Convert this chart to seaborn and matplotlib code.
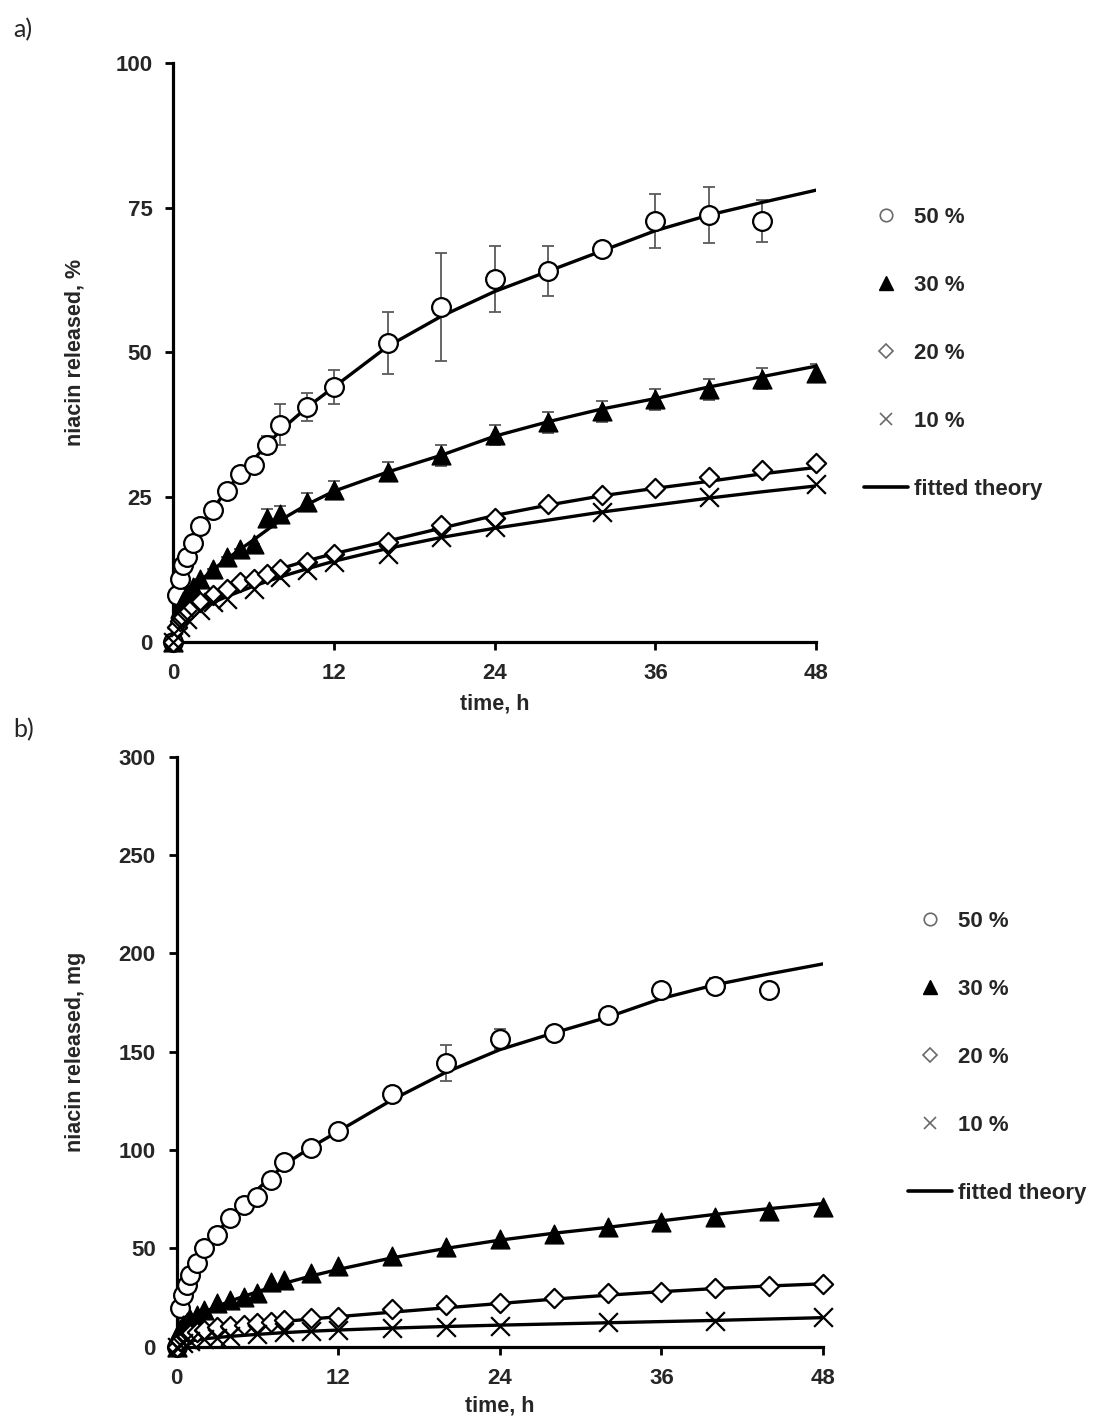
import numpy as np
import pandas as pd
import matplotlib
matplotlib.use("Agg")
import matplotlib.pyplot as plt
import seaborn as sns
from matplotlib.lines import Line2D

# ---------------- data ----------------
labels = ["50 %", "30 %", "20 %", "10 %"]

t_full = [0, 0.25, 0.5, 0.75, 1, 1.5, 2, 3, 4, 5, 6, 7, 8, 10, 12, 16, 20, 24, 28, 32, 36, 40, 44, 48]
t_50 = t_full[:-1]
t_10 = [0, 0.5, 1, 2, 3, 4, 6, 8, 10, 12, 16, 20, 24, 32, 40, 48]
t_fit = [0, 0.25, 0.5, 1, 2, 3, 4, 6, 8, 10, 12, 16, 20, 24, 28, 32, 36, 40, 44, 48]

# panel a: niacin released, %
pa_50 = [0, 8.0, 10.9, 13.2, 14.6, 17.0, 20.0, 22.7, 26.0, 29.0, 30.5, 34.0, 37.5, 40.6, 44.0,
         51.6, 57.8, 62.7, 64.0, 67.8, 72.7, 73.7, 72.7]
pa_50_err = [0, 0, 0, 0, 0, 0, 0, 0, 0.8, 1.0, 1.0, 1.5, 3.6, 2.4, 3.0,
             5.3, 9.3, 5.7, 4.3, 0.5, 4.7, 4.8, 3.6]
pa_30 = [0, 4.0, 5.8, 7.0, 8.3, 9.5, 10.8, 12.5, 14.6, 16.0, 16.9, 21.4, 22.0, 24.1, 26.2,
         29.4, 32.2, 35.7, 37.9, 39.8, 41.9, 43.6, 45.4, 46.4]
pa_30_err = [0, 0, 0, 0, 0, 0, 0, 0, 0, 0, 0, 1.5, 1.5, 1.5, 1.5,
             1.7, 1.8, 1.8, 1.8, 1.8, 1.8, 1.8, 1.8, 1.6]
pa_20 = [0, 2.5, 3.5, 4.3, 5.0, 6.0, 6.8, 8.0, 9.1, 10.3, 10.9, 11.7, 12.6, 13.7, 15.2,
         17.2, 20.1, 21.3, 23.7, 25.4, 26.6, 28.5, 29.6, 30.9]
pa_10 = [0, 2.5, 4.0, 5.5, 6.8, 7.4, 9.1, 11.1, 12.3, 13.7, 15.2, 18.1, 19.8, 22.4, 25.0, 27.2]

fa_50 = [3.5, 8.0, 10.9, 14.5, 19.5, 23.0, 26.3, 31.5, 36.5, 40.5, 44.0, 51.0, 56.2, 60.5,
         64.0, 67.5, 71.0, 73.7, 75.9, 78.0]
fa_30 = [3.5, 4.5, 5.8, 7.8, 10.5, 12.5, 14.3, 17.6, 21.0, 23.7, 26.0, 29.3, 32.2, 35.5,
         38.0, 40.2, 42.0, 44.0, 45.8, 47.6]
fa_20 = [3.0, 3.5, 4.0, 5.0, 6.6, 7.9, 9.0, 11.0, 12.6, 14.0, 15.2, 17.4, 19.6, 21.8,
         23.6, 25.2, 26.5, 27.7, 29.0, 30.1]
fa_10 = [2.5, 3.0, 3.4, 4.2, 5.6, 6.8, 7.8, 9.6, 11.2, 12.6, 13.9, 16.1, 18.0, 19.6,
         21.0, 22.4, 23.6, 24.8, 25.9, 26.9]

# panel b: niacin released, mg
pb_50 = [0, 19.5, 26.3, 31.4, 36.5, 42.4, 50.0, 56.8, 65.3, 72.0, 76.3, 84.7, 94.0, 101.0, 109.5,
         128.5, 144.3, 156.4, 159.7, 168.6, 181.3, 183.4, 181.3]
pb_50_err = [0, 0, 0, 0, 0, 0, 0, 0, 0, 0, 0, 0, 0, 0, 0,
             3.0, 9.0, 5.0, 0, 0, 3.0, 4.0, 0]
pb_30 = [0, 9.0, 11.0, 12.5, 14.0, 16.0, 18.7, 22.0, 23.7, 25.4, 27.1, 33.0, 33.9, 37.3, 41.0,
         46.1, 50.5, 54.6, 57.3, 61.0, 63.5, 66.1, 69.0, 70.8]
pb_20 = [0, 3.0, 4.5, 5.5, 6.5, 7.5, 8.5, 10.2, 10.5, 11.0, 11.9, 12.7, 13.6, 14.4, 15.3,
         19.0, 21.2, 22.0, 24.6, 27.1, 28.0, 29.7, 30.9, 31.9]
pb_10 = [0, 2.0, 3.0, 4.0, 4.5, 5.3, 6.5, 7.5, 8.0, 8.5, 9.3, 10.0, 10.5, 12.7, 13.2, 15.3]

fb_50 = [10, 20, 27, 36, 49, 58, 66, 80, 92.5, 101.5, 109.5, 125.5, 139.5, 151, 159.5,
         167.5, 177, 184, 189.5, 194.6]
fb_30 = [9, 10.5, 11.5, 13.5, 17.5, 20.5, 23.3, 28, 32.3, 36, 39.3, 45.2, 50.0, 54.2,
         57.7, 60.7, 64.0, 67.3, 70.2, 72.8]
fb_20 = [3, 4, 4.8, 6, 7.6, 8.8, 9.8, 11.5, 12.9, 14.1, 15.3, 17.6, 19.8, 22.0,
         24.2, 26.2, 28.0, 29.6, 30.9, 32.0]
fb_10 = [1, 1.5, 2, 3, 4, 4.7, 5.3, 6.3, 7.2, 7.9, 8.5, 9.5, 10.3, 11.0,
         11.6, 12.2, 12.8, 13.4, 14.1, 14.8]

x_ticks = [0, 12, 24, 36, 48]
ya_ticks = [0, 25, 50, 75, 100]
yb_ticks = [0, 50, 100, 150, 200, 250, 300]

# ---------------- style ----------------
sns.set_style("ticks")
plt.rcParams['font.family'] = ['Liberation Sans', 'DejaVu Sans']
plt.rcParams['font.weight'] = 'bold'

mstyle = {
    "50 %": dict(marker='o', s=13.5 ** 2, facecolor='white', edgecolor='black', linewidth=1.6),
    "30 %": dict(marker='^', s=13.5 ** 2, facecolor='black', edgecolor='black', linewidth=1.0),
    "20 %": dict(marker='D', s=9.8 ** 2, facecolor='white', edgecolor='black', linewidth=1.6),
    "10 %": dict(marker='x', s=13.5 ** 2, color='black', linewidth=1.6),
}

fig = plt.figure(figsize=(11.06, 14.25), dpi=100)
axa = fig.add_axes([0.1567, 0.5497, 0.7378 - 0.1567, 0.9559 - 0.5497])
axb = fig.add_axes([0.1597, 0.0549, 0.7441 - 0.1597, 0.4691 - 0.0549])


def draw(ax, pts, errs, fits):
    for lab in labels:
        sns.lineplot(x=t_fit, y=fits[lab], ax=ax, color='black', lw=2.4, estimator=None,
                     sort=False, zorder=3, legend=False)
    for lab in labels:
        t, y = pts[lab]
        if lab in errs:
            e = np.array(errs[lab], dtype=float)
            ax.errorbar(t, y, yerr=e, fmt='none', ecolor='#5a5a5a', elinewidth=1.3,
                        capsize=4, capthick=1.3, zorder=2)
    for lab in labels:
        t, y = pts[lab]
        sns.scatterplot(x=t, y=y, ax=ax, zorder=4, clip_on=False, legend=False,
                        **mstyle[lab])


draw(axa,
     {"50 %": (t_50, pa_50), "30 %": (t_full, pa_30), "20 %": (t_full, pa_20), "10 %": (t_10, pa_10)},
     {"50 %": pa_50_err, "30 %": pa_30_err},
     {"50 %": fa_50, "30 %": fa_30, "20 %": fa_20, "10 %": fa_10})
draw(axb,
     {"50 %": (t_50, pb_50), "30 %": (t_full, pb_30), "20 %": (t_full, pb_20), "10 %": (t_10, pb_10)},
     {"50 %": pb_50_err},
     {"50 %": fb_50, "30 %": fb_30, "20 %": fb_20, "10 %": fb_10})

for ax, yt, ylab, lim in [(axa, ya_ticks, "niacin released, %", 100),
                          (axb, yb_ticks, "niacin released, mg", 300)]:
    ax.set_xlim(0, 48)
    ax.set_ylim(0, lim)
    ax.set_xticks(x_ticks)
    ax.set_yticks(yt)
    ax.tick_params(direction='out', length=6, width=2, labelsize=16, pad=9, color='black')
    for lbl in ax.get_xticklabels() + ax.get_yticklabels():
        lbl.set_fontweight('bold')
    sns.despine(ax=ax)
    for sp in ['left', 'bottom']:
        ax.spines[sp].set_linewidth(2.3)
        ax.spines[sp].set_color('black')
    ax.set_xlabel("time, h", fontsize=15.5, fontweight='bold')
    ax.set_ylabel(ylab, fontsize=15.5, fontweight='bold')

axa.xaxis.set_label_coords(0.5, -0.090)
axa.yaxis.set_label_coords(-0.137, 0.5)
axb.xaxis.set_label_coords(0.5, -0.083)
axb.yaxis.set_label_coords(-0.140, 0.5)

handles = [
    Line2D([], [], ls='none', marker='o', ms=9, mfc='white', mec='#6a6a6a', mew=1.2),
    Line2D([], [], ls='none', marker='^', ms=10, mfc='black', mec='black'),
    Line2D([], [], ls='none', marker='D', ms=7, mfc='white', mec='#6a6a6a', mew=1.2),
    Line2D([], [], ls='none', marker='x', ms=9, mec='#6a6a6a', mew=1.2),
    Line2D([], [], color='black', lw=2.6),
]
leg_labels = labels + ["fitted theory"]
for anchor in [(0.781, 0.752), (0.821, 0.2579)]:
    fig.legend(handles, leg_labels, loc='center left', bbox_to_anchor=anchor,
               frameon=False, prop=dict(size=16, weight='bold'), handlelength=2.0,
               handletextpad=0.25, labelspacing=2.12, borderpad=0, borderaxespad=0)

fig.text(0.012, 0.979, "a)", fontsize=18, family=['Lato', 'DejaVu Sans'],
         fontweight='normal', va='center', ha='left')
fig.text(0.012, 0.4877, "b)", fontsize=18, family=['Lato', 'DejaVu Sans'],
         fontweight='normal', va='center', ha='left')

fig.savefig("out.png", dpi=100, facecolor='white')
